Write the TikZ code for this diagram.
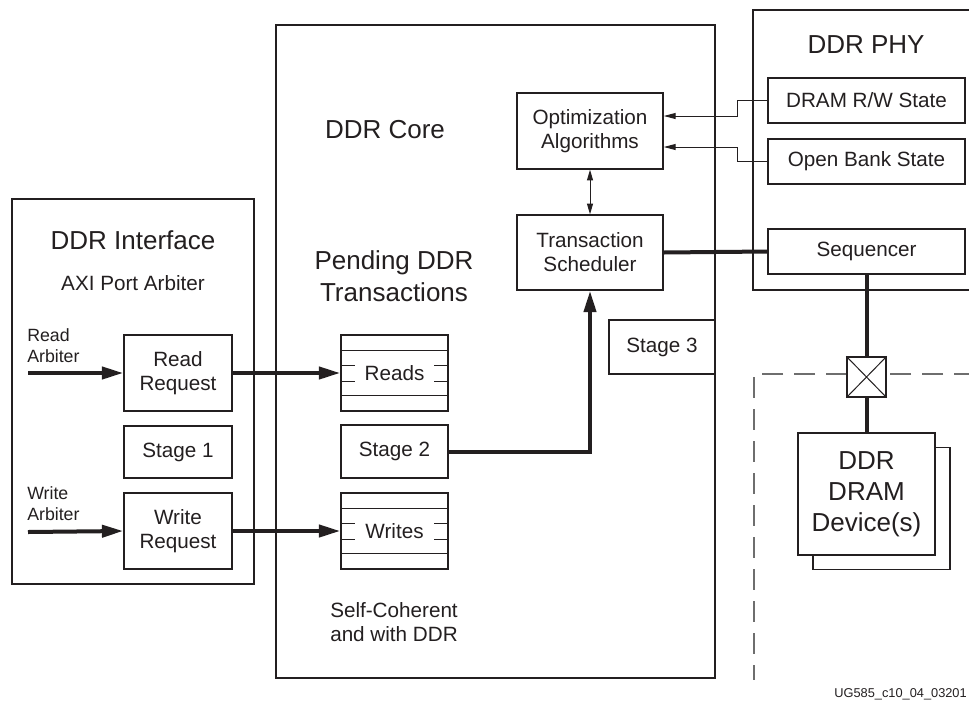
\documentclass[tikz,border=0pt]{standalone}
\usepackage{fontspec}
\setmainfont{Liberation Sans}
\usetikzlibrary{arrows.meta,fit,calc}
\definecolor{ink}{RGB}{35,31,32}
\definecolor{dashgray}{RGB}{110,110,110}
\newcommand\fbig{\fontsize{19.5}{24}\selectfont}
\newcommand\fdev{\fontsize{19.5}{23.25}\selectfont}
\newcommand\fmed{\fontsize{15.5}{18}\selectfont}
\newcommand\fsml{\fontsize{13.3}{15.75}\selectfont}
\newcommand\ftiny{\fontsize{9.6}{11}\selectfont}
\tikzset{
  box/.style={draw=ink, line width=1.1pt, fill=white, inner sep=0pt, align=center, font=\fmed, text=ink},
  bigbox/.style={draw=ink, line width=1.1pt, inner sep=0pt},
  thick line/.style={draw=ink, line width=3pt},
  thick arrow/.style={draw=ink, line width=3pt, -{Triangle[length=16pt,width=9pt]}},
  thin arrow/.style={draw=ink, line width=0.75pt, -{Triangle[length=9pt,width=4.5pt]}},
  dbl arrow/.style={draw=ink, line width=0.75pt, {Triangle[length=8pt,width=4.5pt]}-{Triangle[length=8pt,width=4.5pt]}},
  qline/.style={draw=ink, line width=0.75pt},
  lbl/.style={inner sep=0pt, text=ink, align=center},
}
\begin{document}
\begin{tikzpicture}[x=0.75pt,y=-0.75pt]
\clip (0,0) rectangle (969,700);
\fill[white] (0,0) rectangle (969,700);

% big containers
\node[bigbox, fit={(12,199)(254,584)}] (iface) {};
\node[bigbox, fit={(276,25)(715,678)}] (core) {};
\draw[draw=ink, line width=1.1pt] (975,10) -- (753,10) -- (753,290) -- (975,290);
\coordinate (phy) at (866,45);
\draw[draw=dashgray, line width=1.1pt, dash pattern=on 16pt off 8pt] (975,374) -- (754,374) -- (754,680);

% container titles
\node[lbl, font=\fbig] (tiface) at (133,240) {DDR Interface};
\node[lbl, font=\fmed] (taxi) at (133,283) {AXI Port Arbiter};
\node[lbl, font=\fbig] (tcore) at (385,130) {DDR Core};
\node[lbl, font=\fbig] (tpend) at (394,276) {Pending DDR\\Transactions};
\node[lbl, font=\fmed, align=center] (tself) at (394,622) {Self-Coherent\\and with DDR};
\node[lbl, font=\fbig] (tphy) at (phy) {DDR PHY};

% interface boxes
\node[box, minimum width=81pt, minimum height=57pt] (rreq) at (178,373) {Read\\Request};
\node[box, minimum width=81pt, minimum height=39pt] (st1) at (178,452) {Stage 1};
\node[box, minimum width=81pt, minimum height=57pt] (wreq) at (178,531) {Write\\Request};
\node[lbl, font=\fsml, align=left, anchor=north west] (rarb) at (27,328) {Read\\Arbiter};
\node[lbl, font=\fsml, align=left, anchor=north west] (warb) at (27,486) {Write\\Arbiter};
\coordinate (rin) at (28,373);
\coordinate (win) at (28,532);

% core boxes
\node[box, minimum width=80.25pt, minimum height=57pt] (reads) at (394.5,373) {Reads};
\node[box, minimum width=80.25pt, minimum height=39.75pt] (st2) at (394.5,451.5) {Stage 2};
\node[box, minimum width=80.25pt, minimum height=57pt] (writes) at (394.5,531) {Writes};
\node[box, minimum width=109.5pt, minimum height=57pt] (opt) at (590,131) {Optimization\\Algorithms};
\node[box, minimum width=109.5pt, minimum height=56.25pt] (sched) at (590,252.5) {Transaction\\Scheduler};
\node[box, minimum width=79.5pt, minimum height=40.5pt] (st3) at (662,347) {Stage 3};

% queue markings
\foreach \q in {reads,writes}{
  \draw[qline] ($(\q.north west)+(0,-12pt)$) -- ($(\q.north east)+(0,-12pt)$);
  \draw[qline] ($(\q.south west)+(0,12pt)$) -- ($(\q.south east)+(0,12pt)$);
  \draw[qline] ($(\q.west)+(0,6pt)$) -- ++(11pt,0);
  \draw[qline] ($(\q.west)+(0,-6pt)$) -- ++(11pt,0);
  \draw[qline] ($(\q.east)+(0,6pt)$) -- ++(-11pt,0);
  \draw[qline] ($(\q.east)+(0,-6pt)$) -- ++(-11pt,0);
}

% PHY boxes
\node[box, minimum width=147.75pt, minimum height=33.75pt] (drw) at (866.5,100.5) {DRAM R/W State};
\node[box, minimum width=147.75pt, minimum height=33.75pt] (obs) at (866.5,161.5) {Open Bank State};
\node[box, minimum width=147.75pt, minimum height=33.75pt] (seq) at (866.5,251.5) {Sequencer};

% crossed box and device
\node[box, minimum width=29.25pt, minimum height=30pt] (cross) at (866.5,377) {};
\draw[draw=ink, line width=0.75pt] (cross.north west) -- (cross.south east) (cross.north east) -- (cross.south west);
\node[box, minimum width=102.75pt, minimum height=91.5pt] (devback) at (881.5,508.5) {};
\node[box, minimum width=102.75pt, minimum height=91.5pt, font=\fdev] (dev) at (866.5,494) {DDR\\DRAM\\Device(s)};

% connectors
\draw[thick arrow] (rin) -- (rreq.west);
\draw[thick arrow] (win) -- (wreq.west);
\draw[thick arrow] (rreq.east) -- (reads.west);
\draw[thick arrow] (wreq.east) -- (writes.west);
\draw[thick arrow] (st2.east) -| (sched.south);
\draw[thick line] (sched.east) -- (seq.west);
\draw[thick line] (seq.south) -- (cross.north);
\draw[thick line] (cross.south) -- (dev.north);
\draw[dbl arrow] (opt.south) -- (sched.north);
\draw[thin arrow] (drw.west) -- ++(-22.5pt,0) |- ([yshift=11.25pt]opt.east);
\draw[thin arrow] (obs.west) -- ++(-22.5pt,0) |- ([yshift=-12pt]opt.east);

% figure id
\node[lbl, font=\ftiny, anchor=base east] (figid) at (967,697) {UG585\_c10\_04\_03201};
\end{tikzpicture}
\end{document}
